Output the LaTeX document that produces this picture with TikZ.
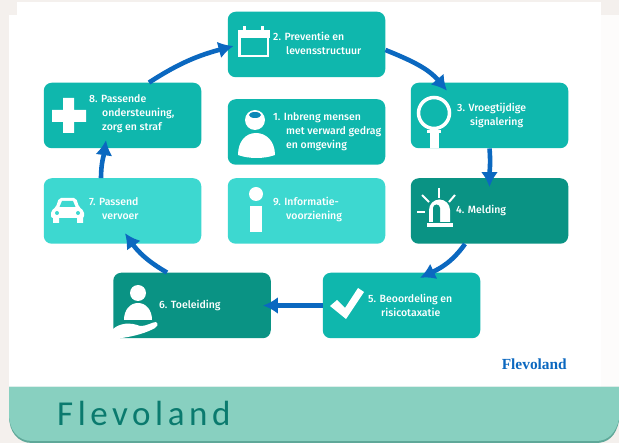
\documentclass[tikz,border=0pt]{standalone}
\usepackage{fontspec}
\setmainfont{Fira Sans}[BoldFont={Fira Sans Medium}]
\newfontfamily\brandfont{Liberation Serif}
\newfontfamily\titlefont[LetterSpace=13]{Carlito}
\usetikzlibrary{arrows.meta, positioning}

\definecolor{pagegray}{HTML}{F4F0ED}
\definecolor{barteal}{HTML}{88D0C0}
\definecolor{barline}{HTML}{5FA899}
\definecolor{titleteal}{HTML}{0A7A6E}
\definecolor{midteal}{HTML}{0FB7AD}
\definecolor{lightteal}{HTML}{3DD8D0}
\definecolor{darkteal}{HTML}{0A9384}
\definecolor{arrowblue}{HTML}{0B68C0}

\begin{document}
\begin{tikzpicture}[
  x=1pt, y=-1pt,
  every node/.style={align=center, font=\bfseries\fontsize{10.5}{14}\selectfont, text=white},
  box/.style={rectangle, rounded corners=8pt, minimum width=157.5pt, minimum height=65.5pt, inner sep=0pt, fill=#1},
  box/.default=midteal,
  lbl/.style={align=left, anchor=west, inner sep=0pt},
  arrow/.style={-{Latex[width=17pt,length=15pt]}, line width=4.6pt, arrowblue},
  icon/.style={fill=white, draw=none},
  iconline/.style={draw=white, line width=2pt}
]

% Background
\useasboundingbox (0,0) rectangle (619,443);
\fill[pagegray] (0,0) rectangle (619,443);
\fill[white!80!pagegray] (601,15) rectangle (619,387);
\fill[white] (17,2) rectangle (601,387);
\fill[white] (9,15) rectangle (17,387);
\fill[barline] (9,387) -- (619,387) -- (619,421) .. controls (616,436) and (608,443) .. (596,443) -- (32,443) .. controls (18,443) and (9,432) .. (9,416) -- cycle;
\fill[barteal] (9,387) -- (619,387) -- (619,419) .. controls (616,433) and (608,441) .. (596,441) -- (32,441) .. controls (18,441) and (9,430) .. (9,414) -- cycle;
\node[text=titleteal, font=\titlefont\mdseries\fontsize{35}{35}\selectfont, anchor=west, inner sep=0pt] (title) at (57,413) {Flevoland};
\node[text=arrowblue, font=\brandfont\bfseries\fontsize{15.4}{15.4}\selectfont, anchor=east, inner sep=0pt] (brand) at (567,364) {Flevoland};

% Nodes
\node[box] (prev) at (306.5,44.5) {};
\node[box] (onder) at (122.5,115.5) {};
\node[box] (sign) at (489.5,115.5) {};
\node[box] (inbreng) at (306.5,132) {};
\node[box=lightteal] (vervoer) at (122.5,211) {};
\node[box=lightteal] (info) at (306.5,211) {};
\node[box=darkteal] (meld) at (489.5,211) {};
\node[box=darkteal] (toel) at (192,305.5) {};
\node[box] (beoord) at (401.5,305.5) {};

% Labels
\node[lbl] (tprev) at (273,43) {2. Preventie en\\\hspace{13pt}levensstructuur};
\node[lbl] (tonder) at (89,114) {8. Passende\\\hspace{13pt}ondersteuning,\\\hspace{13pt}zorg en straf};
\node[lbl] (tsign) at (457,115) {3. Vroegtijdige\\\hspace{13pt}signalering};
\node[lbl] (tinbreng) at (273,132) {1. Inbreng mensen\\\hspace{13pt}met verward gedrag\\\hspace{13pt}en omgeving};
\node[lbl] (tvervoer) at (89,209) {7. Passend\\\hspace{13pt}vervoer};
\node[lbl] (tinfo) at (273,209) {9. Informatie-\\\hspace{13pt}voorziening};
\node[lbl] (tmeld) at (456,210) {4. Melding};
\node[lbl] (ttoel) at (159,305) {6. Toeleiding};
\node[lbl] (tbeoord) at (368,305) {5. Beoordeling en\\\hspace{13pt}risicotaxatie};

% Icons
\draw[draw=white, line width=2.6pt] (239.5,31) rectangle (268,56);
\fill[icon] (238,30) rectangle (270,38);
\fill[icon] (242.5,26) rectangle (245.5,31);
\fill[icon] (260.5,26) rectangle (263.5,31);
\fill[icon] (52,110) -- (63,110) -- (63,98) -- (74,98) -- (74,110) -- (86,110) -- (86,122) -- (74,122) -- (74,133) -- (63,133) -- (63,122) -- (52,122) -- cycle;
\draw[draw=white, line width=3.5pt] (434,113) circle (15.5pt);
\fill[icon] (427,130) rectangle (441,133);
\fill[icon] (430,131) rectangle (439,148);
\fill[icon] (255,120) circle (10pt);
\fill[midteal!40!arrowblue] (255,115) ellipse (6pt and 3pt);
\fill[icon] (238,155) .. controls (238,141) and (246,133) .. (256,133) .. controls (266,133) and (275,141) .. (275,155) .. controls (264,159) and (249,159) .. (238,155) -- cycle;
\fill[icon] (256,194) circle (7pt);
\fill[icon] (250,206) rectangle (262,232);
\fill[icon, rounded corners=2pt] (51,218) -- (51,211) -- (56,207) -- (59,198) -- (76,198) -- (79,207) -- (84,211) -- (84,218) -- cycle;
\fill[icon] (53,217) rectangle (59,223) (77,217) rectangle (83,223);
\fill[lightteal] (59.5,207) -- (62,201) -- (73,201) -- (75.5,207) -- cycle;
\fill[lightteal] (57,213) circle (2pt) (78,213) circle (2pt);
\fill[icon] (429,222) -- (429,210) arc[start angle=180, end angle=0, radius=10.5pt] -- (450,222) -- cycle;
\fill[darkteal] (433,222) -- (433,208) arc[start angle=180, end angle=0, radius=3.5pt] -- (440,222) -- cycle;
\fill[icon] (427,223.5) rectangle (453,227);
\draw[iconline] (417,212) -- (425,212);
\draw[iconline] (422,195) -- (429,202);
\draw[iconline] (439,188) -- (439,198);
\draw[iconline] (455,195) -- (449,202);
\fill[icon] (138,293) circle (8pt);
\fill[icon] (124,320) .. controls (124,310) and (130,303) .. (138,303) .. controls (146,303) and (152,310) .. (152,320) -- cycle;
\fill[icon] (113,329) .. controls (120,323) and (130,322) .. (140,326) .. controls (148,326) and (152,322) .. (156,322) .. controls (159,324) and (157,327) .. (155,328) .. controls (146,333) and (135,336) .. (122,338) -- (113,338) -- cycle;
\fill[icon] (330,306) -- (337,300) -- (345,308) -- (358,288) -- (364,292) -- (346,319) -- cycle;

% Arrows
\draw[arrow] ([xshift=26.5pt]onder.north) to[out=33,in=195] ([xshift=6pt,yshift=-1.5pt]prev.west);
\draw[arrow] ([yshift=-5.5pt]prev.east) to[out=-22,in=130] ([xshift=-42.5pt,yshift=-8.25pt]sign.north);
\draw[arrow] (sign.south) to[out=-85,in=90] ([yshift=-9pt]meld.north);
\draw[arrow] ([xshift=-24.5pt]meld.south) to[out=235,in=25] ([xshift=18.5pt,yshift=-5.25pt]beoord.north);
\draw[arrow] (beoord.west) -- ([xshift=-8pt]toel.east);
\draw[arrow] ([xshift=-25pt]toel.north) to[out=150,in=-55] ([xshift=2.5pt,yshift=10.75pt]vervoer.south);
\draw[arrow] ([xshift=-21.5pt]vervoer.north) to[out=90,in=262] ([xshift=-16.5pt,yshift=8.25pt]onder.south);

\end{tikzpicture}
\end{document}
